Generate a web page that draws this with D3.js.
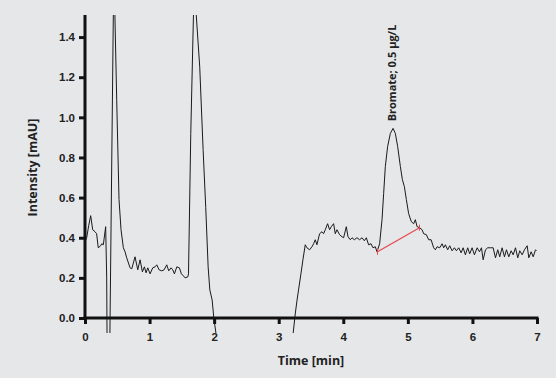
<!DOCTYPE html>
<html>
<head>
<meta charset="utf-8">
<script src="https://cdn.jsdelivr.net/npm/d3@7"></script>
<style>
  body { margin: 0; background: #e6e7e9; }
  svg { display: block; font-family: "Open Sans", "DejaVu Sans", sans-serif; }
</style>
</head>
<body>
<div class="chart"></div>
<script>
// chromatogram trace, time in min / intensity in mAU
var timeMin = [
  0.000, 0.026, 0.057, 0.088, 0.119, 0.155, 0.180, 0.205, 0.243, 0.258, 0.284, 0.320, 0.336, 0.345, 0.385,
  0.440, 0.452, 0.465, 0.491, 0.527, 0.558, 0.594, 0.620, 0.646, 0.698, 0.724, 0.775, 0.817, 0.853, 0.889,
  0.920, 0.946, 0.972, 1.008, 1.049, 1.085, 1.111, 1.147, 1.189, 1.225, 1.266, 1.297, 1.333, 1.359, 1.385,
  1.422, 1.462, 1.493, 1.524, 1.550, 1.592, 1.603, 1.638, 1.679, 1.700, 1.725, 1.777, 1.829, 1.870, 1.907,
  1.933, 1.969, 1.995, 2.030, 2.060, 2.200, 3.100, 3.200, 3.229, 3.256, 3.280, 3.307, 3.344, 3.375, 3.411,
  3.437, 3.478, 3.515, 3.540, 3.566, 3.592, 3.633, 3.670, 3.695, 3.721, 3.757, 3.788, 3.814, 3.850, 3.876,
  3.902, 3.943, 3.980, 4.005, 4.047, 4.073, 4.109, 4.135, 4.171, 4.212, 4.253, 4.290, 4.326, 4.357, 4.392,
  4.429, 4.460, 4.496, 4.522, 4.563, 4.600, 4.625, 4.651, 4.687, 4.729, 4.771, 4.806, 4.842, 4.884, 4.915,
  4.946, 4.977, 5.012, 5.054, 5.090, 5.116, 5.143, 5.183, 5.220, 5.245, 5.287, 5.322, 5.360, 5.400, 5.426,
  5.453, 5.493, 5.530, 5.555, 5.581, 5.617, 5.648, 5.685, 5.721, 5.752, 5.788, 5.825, 5.856, 5.891, 5.927,
  5.958, 5.995, 6.031, 6.073, 6.109, 6.140, 6.166, 6.202, 6.237, 6.279, 6.321, 6.357, 6.392, 6.423, 6.460,
  6.496, 6.527, 6.563, 6.600, 6.631, 6.667, 6.702, 6.733, 6.770, 6.806, 6.848, 6.873, 6.910, 6.941, 6.977,
  6.992
];
var intensity = [
  0.380, 0.400, 0.460, 0.510, 0.440, 0.430, 0.420, 0.350, 0.360, 0.370, 0.365, 0.455, 0.200, -0.300, -0.100,
  1.550, 1.700, 1.480, 1.085, 0.590, 0.440, 0.350, 0.330, 0.300, 0.250, 0.245, 0.305, 0.240, 0.290, 0.230,
  0.255, 0.225, 0.250, 0.220, 0.250, 0.255, 0.265, 0.240, 0.235, 0.240, 0.265, 0.235, 0.250, 0.240, 0.220,
  0.255, 0.250, 0.220, 0.210, 0.200, 0.205, 0.220, 0.920, 1.500, 1.700, 1.500, 1.250, 0.840, 0.550, 0.255,
  0.140, 0.090, 0.000, -0.080, -0.200, -0.500, -0.500, -0.150, -0.060, 0.020, 0.080, 0.140, 0.220, 0.290, 0.365,
  0.350, 0.340, 0.355, 0.370, 0.390, 0.365, 0.420, 0.430, 0.420, 0.440, 0.470, 0.440, 0.455, 0.470, 0.420,
  0.440, 0.415, 0.405, 0.400, 0.455, 0.405, 0.390, 0.400, 0.390, 0.400, 0.390, 0.400, 0.385, 0.400, 0.365,
  0.370, 0.350, 0.355, 0.330, 0.370, 0.490, 0.620, 0.755, 0.855, 0.920, 0.945, 0.920, 0.855, 0.755, 0.690,
  0.655, 0.590, 0.520, 0.480, 0.470, 0.490, 0.455, 0.450, 0.440, 0.420, 0.415, 0.390, 0.390, 0.350, 0.340,
  0.355, 0.350, 0.370, 0.350, 0.365, 0.340, 0.360, 0.335, 0.350, 0.335, 0.350, 0.325, 0.350, 0.315, 0.350,
  0.320, 0.350, 0.315, 0.350, 0.330, 0.350, 0.290, 0.340, 0.350, 0.350, 0.350, 0.300, 0.340, 0.305, 0.350,
  0.305, 0.340, 0.305, 0.335, 0.315, 0.350, 0.300, 0.335, 0.315, 0.340, 0.360, 0.300, 0.330, 0.305, 0.340,
  0.335
];

// integration baseline under the bromate peak
var baselineTime = [4.53, 5.18];
var baselineValue = [0.33, 0.45];

var peakLabel = "Bromate; 0.5 µg/L";
var peakLabelTime = 4.76, peakLabelValue = 0.98;

var xTicks = [0, 1, 2, 3, 4, 5, 6, 7];
var yTicks = [0.0, 0.2, 0.4, 0.6, 0.8, 1.0, 1.2, 1.4];

var width = 556, height = 378;
var margin = {top: 15, right: 19, bottom: 60, left: 85};

var svg = d3.select(".chart")
  .append("svg")
    .attr("width", width)
    .attr("height", height);

svg.append("rect")
  .attr("width", width)
  .attr("height", height)
  .attr("fill", "#e6e7e9");

var x = d3.scaleLinear()
  .domain([0, 7])
  .range([margin.left, width - margin.right]);

var y = d3.scaleLinear()
  .domain([0, 1.51])
  .range([height - margin.bottom, margin.top]);

// the trace may dip a little below the x axis before it is cut off
svg.append("clipPath")
    .attr("id", "plot-clip")
  .append("rect")
    .attr("x", x(0))
    .attr("y", margin.top)
    .attr("width", x(7) - x(0) + 1)
    .attr("height", y(-0.075) - margin.top);

var trace = timeMin.map(function(t, i) { return [t, intensity[i]]; });

svg.append("path")
  .datum(trace)
  .attr("clip-path", "url(#plot-clip)")
  .attr("fill", "none")
  .attr("stroke", "#1a1a1a")
  .attr("stroke-width", 1)
  .attr("stroke-linejoin", "round")
  .attr("d", d3.line()
    .x(function(d) { return x(d[0]); })
    .y(function(d) { return y(d[1]); }));

// red baseline with small end marks
var redColor = "#e8474f";
svg.append("line")
  .attr("x1", x(baselineTime[0]))
  .attr("y1", y(baselineValue[0]))
  .attr("x2", x(baselineTime[1]))
  .attr("y2", y(baselineValue[1]))
  .attr("stroke", redColor)
  .attr("stroke-width", 1.2);

svg.selectAll(".base-mark")
  .data(baselineTime)
  .enter()
  .append("line")
    .attr("class", "base-mark")
    .attr("x1", function(d) { return x(d); })
    .attr("x2", function(d) { return x(d); })
    .attr("y1", function(d, i) { return y(baselineValue[i]) - 3; })
    .attr("y2", function(d, i) { return y(baselineValue[i]) + 3; })
    .attr("stroke", redColor)
    .attr("stroke-width", 1);

// axes
var xAxis = svg.append("g")
  .attr("transform", "translate(0," + y(0) + ")")
  .call(d3.axisBottom(x).tickValues(xTicks).tickSize(6).tickSizeOuter(0).tickPadding(9)
    .tickFormat(d3.format("d")));

var yAxis = svg.append("g")
  .attr("transform", "translate(" + x(0) + ",0)")
  .call(d3.axisLeft(y).tickValues(yTicks).tickSize(6).tickSizeOuter(0).tickPadding(4)
    .tickFormat(d3.format(".1f")));

[xAxis, yAxis].forEach(function(g) {
  g.select(".domain").attr("stroke", "#111").attr("stroke-width", 3);
  g.selectAll(".tick line").attr("stroke", "#111").attr("stroke-width", 3);
  g.selectAll(".tick text")
    .attr("fill", "#222")
    .style("font-size", "11.5px")
    .style("font-weight", "bold");
});

// let the axis lines meet at the corner
xAxis.select(".domain").attr("d", "M" + (x(0) - 1.5) + ",0H" + (x(7) + 1.5));
yAxis.select(".domain").attr("d", "M0," + (y(0) + 1.5) + "V" + margin.top);

svg.append("text")
  .attr("x", (x(0) + x(7)) / 2)
  .attr("y", 365)
  .attr("text-anchor", "middle")
  .style("font-size", "12.5px")
  .style("font-weight", "bold")
  .attr("fill", "#222")
  .text("Time [min]");

svg.append("text")
  .attr("transform", "translate(37," + y(0.75) + ")rotate(-90)")
  .attr("text-anchor", "middle")
  .style("font-size", "12.5px")
  .style("font-weight", "bold")
  .attr("fill", "#222")
  .text("Intensity [mAU]");

svg.append("text")
  .attr("transform", "translate(" + (x(peakLabelTime) + 3.5) + "," + y(peakLabelValue) + ")rotate(-90)")
  .attr("text-anchor", "start")
  .style("font-size", "11px")
  .style("font-weight", "bold")
  .attr("fill", "#222")
  .text(peakLabel);
</script>
</body>
</html>
